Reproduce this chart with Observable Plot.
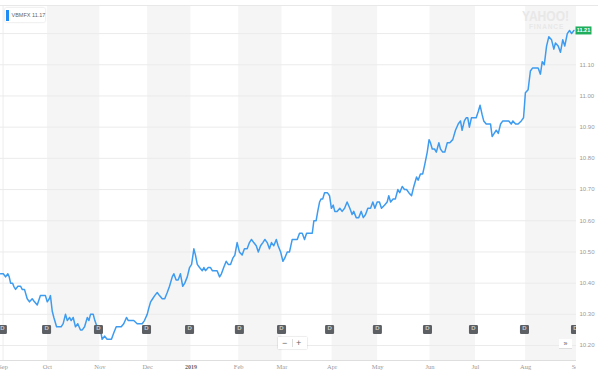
<!DOCTYPE html>
<html><head><meta charset="utf-8">
<script src="https://cdn.jsdelivr.net/npm/d3@7"></script>
<script src="https://cdn.jsdelivr.net/npm/@observablehq/plot@0.6"></script>
<style>
body{margin:0;background:#fff;}
#wrap{position:relative;width:600px;height:382px;overflow:hidden;font-family:"Liberation Sans",Arial,sans-serif;}
#wrap > svg{position:absolute;left:0;top:0;}
.ov{position:absolute;white-space:nowrap;}
</style></head><body><div id="wrap"></div>
<script>
// trading-day position (0 = first trading day of Sep 2018) and NAV
const days = [-1.6,-0.4,0.6,1.6,2.2,2.8,3.7,4.2,5.0,6.0,7.2,7.9,8.9,10.1,11.1,12.3,13.3,14.5,15.9,17.4,18.1,18.9,19.8,20.3,21.1,21.8,23.0,24.0,25.0,25.9,26.9,27.7,28.7,29.4,30.3,31.3,32.3,33.5,34.3,35.3,36.5,37.2,37.9,39.1,39.8,40.8,41.9,42.3,43.0,44.1,45.2,46.4,47.1,48.1,49.2,50.3,51.4,52.5,53.7,54.5,55.5,56.9,58.4,59.6,60.6,61.6,62.8,63.5,64.3,65.2,
66.1,67.2,68.2,69.4,70.5,71.6,72.6,73.8,74.5,75.5,76.4,77.4,78.4,79.3,80.4,81.4,82.3,83.3,84.0,84.8,85.8,87.0,87.7,88.4,89.6,90.6,91.4,92.8,93.5,94.6,95.4,96.4,97.5,98.4,99.4,100.4,101.3,102.3,103.3,104.5,105.5,106.7,107.7,108.6,109.6,110.7,111.6,112.6,113.6,114.5,115.5,116.5,117.4,118.4,119.5,120.3,121.4,122.4,123.2,124.3,125.3,126.5,127.6,128.7,129.7,130.9,131.9,132.8,134.2,135.3,136.0,137.0,137.7,138.5,139.2,139.9,140.7,141.9,142.9,143.7,144.5,145.2,146.2,147.4,148.4,149.5,150.6,151.8,152.8,153.5,154.6,155.7,156.8,157.7,158.7,159.7,160.9,161.9,162.8,163.8,164.8,165.7,167.0,168.2,168.9,169.7,170.8,171.8,172.9,173.7,174.8,175.8,176.7,177.7,178.9,179.9,181.1,181.8,182.8,183.8,184.7,185.8,186.6,187.2,188.0,189.0,189.8,190.9,191.6,192.6,193.5,194.6,195.7,197.0,198.2,199.4,200.4,201.1,202.1,202.9,203.6,204.3,205.2,206.2,207.3,208.2,209.0,209.9,210.6,211.7,212.8,213.6,214.3,215.2,216.1,217.0,218.0,219.0,220.2,221.6,222.7,223.4,224.6,225.7,227.1,228.1,228.9,230.1,231.1,232.1,233.3,234.5,235.5,236.3,237.2,238.2,239.2,240.4,241.4,242.1,243.3,244.3,245.3,246.2,247.3,248.3,249.2,250.2];
const navs = [10.43,10.43,10.42,10.43,10.42,10.40,10.40,10.39,10.38,10.39,10.39,10.38,10.38,10.35,10.34,10.35,10.34,10.33,10.36,10.36,10.36,10.34,10.35,10.36,10.31,10.29,10.26,10.26,10.26,10.27,10.30,10.28,10.29,10.28,10.29,10.26,10.27,10.25,10.25,10.26,10.29,10.28,10.30,10.30,10.28,10.26,10.26,10.25,10.22,10.23,10.22,10.22,10.22,10.24,10.26,10.26,10.26,10.27,10.29,10.28,10.28,10.28,10.27,10.27,10.27,10.28,10.30,10.32,10.34,10.35,
10.36,10.37,10.36,10.35,10.35,10.37,10.39,10.42,10.43,10.41,10.41,10.43,10.39,10.40,10.42,10.45,10.46,10.51,10.49,10.46,10.45,10.44,10.45,10.44,10.45,10.45,10.44,10.44,10.44,10.42,10.43,10.45,10.47,10.46,10.46,10.48,10.49,10.53,10.50,10.49,10.51,10.51,10.53,10.54,10.53,10.52,10.50,10.52,10.53,10.54,10.53,10.51,10.53,10.52,10.54,10.52,10.50,10.47,10.48,10.50,10.50,10.54,10.54,10.54,10.56,10.56,10.54,10.56,10.56,10.56,10.60,10.60,10.63,10.66,10.67,10.67,10.69,10.69,10.68,10.64,10.65,10.63,10.63,10.64,10.63,10.64,10.66,10.64,10.62,10.63,10.61,10.61,10.63,10.61,10.62,10.64,10.64,10.66,10.64,10.66,10.66,10.64,10.65,10.66,10.68,10.66,10.67,10.67,10.70,10.69,10.71,10.70,10.70,10.69,10.68,10.71,10.74,10.73,10.75,10.75,10.78,10.82,10.86,10.85,10.83,10.83,10.82,10.85,10.83,10.82,10.82,10.85,10.85,10.86,10.89,10.91,10.92,10.89,10.92,10.93,10.93,10.90,10.93,10.93,10.93,10.95,10.97,10.94,10.92,10.91,10.91,10.91,10.87,10.88,10.89,10.88,10.91,10.92,10.92,10.92,10.91,10.92,10.91,10.91,10.92,10.93,11.01,11.02,11.08,11.09,11.09,11.09,11.07,11.11,11.10,11.16,11.19,11.18,11.15,11.17,11.16,11.14,11.18,11.16,11.20,11.21,11.20,11.21];

const monthLabels = ["Sep","Oct","Nov","Dec","2019","Feb","Mar","Apr","May","Jun","Jul","Aug","Sep"];
const monthDays = [-0.5,19,42,63,82,103,122,144,164,187,207,229,251.4];
const dividendDays = [-0.8,18.6,41.4,62.5,81.4,103.3,121.8,142.9,163.9,185.9,206.1,228.5,250.9];
const gridValues = [10.2,10.3,10.4,10.5,10.6,10.7,10.8,10.9,11.0,11.1,11.2];
const tickValues = [10.2,10.3,10.4,10.5,10.6,10.7,10.8,10.9,11.0,11.1];
const ticker = "VBMFX";
const legendValue = 11.17;
const lastValue = 11.21;

const series = days.map((d, i) => ({day: d, nav: navs[i]}));
const months = monthLabels.map((label, i) => ({label, day: monthDays[i]}));
const bands = [];
for (let i = 1; i < monthDays.length - 1; i += 2) bands.push({x1: monthDays[i], x2: monthDays[i + 1]});

const roundedSquare = {draw(ctx, size) {
  const h = Math.sqrt(size) / 2, r = 1.2;
  ctx.moveTo(-h + r, -h); ctx.lineTo(h - r, -h); ctx.arcTo(h, -h, h, -h + r, r);
  ctx.lineTo(h, h - r); ctx.arcTo(h, h, h - r, h, r);
  ctx.lineTo(-h + r, h); ctx.arcTo(-h, h, -h, h - r, r);
  ctx.lineTo(-h, -h + r); ctx.arcTo(-h, -h, -h + r, -h, r); ctx.closePath();
}};
const tagSymbol = {draw(ctx) {
  ctx.moveTo(-8, -4); ctx.lineTo(8, -4); ctx.lineTo(8, 4); ctx.lineTo(-8, 4); ctx.closePath();
}};

const xDomain = [-1.63, 251.35];
const yDomain = [10.152, 11.29];

const plot = Plot.plot({
  width: 600, height: 382,
  marginTop: 5, marginBottom: 22, marginLeft: 0, marginRight: 24,
  x: {domain: xDomain, axis: null},
  y: {domain: yDomain, axis: null},
  style: {background: "transparent", overflow: "visible", fontFamily: "Liberation Sans, Arial, sans-serif"},
  marks: [
    Plot.rect(bands, {x1: "x1", x2: "x2", fill: "#f5f5f5", clip: true}),
    Plot.ruleX([monthDays[0]], {stroke: "#ededed"}),
    Plot.ruleY(gridValues, {stroke: "#ebebeb"}),
    Plot.ruleY([yDomain[1]], {x1: xDomain[0], x2: 261, stroke: "#e8e8e8"}),
    Plot.ruleY([yDomain[0]], {stroke: "#dedede"}),
    Plot.line(series, {x: "day", y: "nav", stroke: "#3d9bf0", strokeWidth: 1.5, clip: true}),
    Plot.dot(dividendDays, {x: d => d, frameAnchor: "bottom", dy: -31, r: 5.1, symbol: roundedSquare, fill: "#5c5f64", stroke: null, clip: true}),
    Plot.text(dividendDays, {x: d => d, frameAnchor: "bottom", dy: -31, text: () => "D", fill: "#c8c8c8", fontSize: 6, fontWeight: "bold", clip: true}),
    Plot.text(tickValues, {y: d => d, text: d => d.toFixed(2), frameAnchor: "right", textAnchor: "start", dx: 3, fill: "#9a9a9a", fontSize: 6}),
    Plot.text(months.filter(m => m.label !== "2019"), {x: "day", text: "label", frameAnchor: "bottom", lineAnchor: "top", textAnchor: "middle", dy: 4, fill: "#9a9a9a", fontSize: 6.5, fontFamily: "Liberation Serif, serif", ariaLabel: "month-labels"}),
    Plot.text(months.filter(m => m.label === "2019"), {x: "day", text: "label", frameAnchor: "bottom", lineAnchor: "top", textAnchor: "middle", dy: 4, fill: "#666", fontSize: 6, fontWeight: "bold", fontFamily: "Liberation Serif, serif"}),
    Plot.dot([lastValue], {y: d => d, frameAnchor: "right", dx: 7, symbol: tagSymbol, fill: "#1fae5c", stroke: null}),
    Plot.text([lastValue], {y: d => d, frameAnchor: "right", textAnchor: "middle", dx: 7, text: d => d.toFixed(2), fill: "#fff", fontSize: 5.5, fontWeight: "bold"})
  ]
});

const wrap = document.getElementById("wrap");
wrap.appendChild(plot);

// month labels are cut at the right edge of the plotting frame, as in the reference:
// move their group into a nested <svg> viewport (which clips) 576 px wide
const svgNS = "http://www.w3.org/2000/svg";
const octText = Array.from(plot.querySelectorAll("text")).find(t => t.textContent === "Oct");
if (octText) {
  const g = octText.parentNode;
  const inner = document.createElementNS(svgNS, "svg");
  inner.setAttribute("x", 0); inner.setAttribute("y", 0);
  inner.setAttribute("width", 576); inner.setAttribute("height", 382);
  inner.setAttribute("overflow", "hidden");
  inner.style.overflow = "hidden";
  g.parentNode.insertBefore(inner, g);
  inner.appendChild(g);
}

// legend
const leg = document.createElement("div");
leg.className = "ov";
leg.style.cssText = "left:5px;top:8px;width:40px;height:14px;background:#fff;box-shadow:0 0 2px rgba(0,0,0,0.22);border-radius:1px;";
leg.innerHTML = '<div style="position:absolute;left:1px;top:1.5px;width:2.5px;height:11px;background:#1e8cf5"></div>' +
  '<div style="position:absolute;left:6.5px;top:0;line-height:14px;font-size:5.5px;color:#666">' + ticker + ' ' + legendValue.toFixed(2) + '</div>';
wrap.appendChild(leg);

// watermark
const wm1 = document.createElement("div");
wm1.className = "ov";
wm1.style.cssText = "left:522px;top:8px;font-size:14px;line-height:16px;font-weight:bold;color:#e8e8e8;transform:scaleX(0.86);transform-origin:left top;";
wm1.textContent = "YAHOO!";
wrap.appendChild(wm1);
const wm2 = document.createElement("div");
wm2.className = "ov";
wm2.style.cssText = "left:529px;top:23px;font-size:6.5px;line-height:8px;font-weight:bold;letter-spacing:0.9px;color:#e8e8e8;";
wm2.textContent = "FINANCE";
wrap.appendChild(wm2);

// zoom control
const zc = document.createElement("div");
zc.className = "ov";
zc.style.cssText = "left:278px;top:337px;width:29px;height:12px;background:#fff;box-shadow:0 0 1.5px rgba(0,0,0,0.25);font-size:9px;line-height:12px;color:#666;";
zc.innerHTML = '<span style="position:absolute;left:4px;top:0">\u2212</span><span style="position:absolute;left:14px;top:2px;width:1px;height:8px;background:#ddd"></span><span style="position:absolute;left:18px;top:0">+</span>';
wrap.appendChild(zc);

const nx = document.createElement("div");
nx.className = "ov";
nx.style.cssText = "left:559px;top:339px;width:13px;height:9px;background:#fff;border-bottom:1px solid #ddd;font-size:7px;line-height:9px;color:#666;text-align:center;";
nx.textContent = "\u00bb";
wrap.appendChild(nx);
</script>
</body></html>
